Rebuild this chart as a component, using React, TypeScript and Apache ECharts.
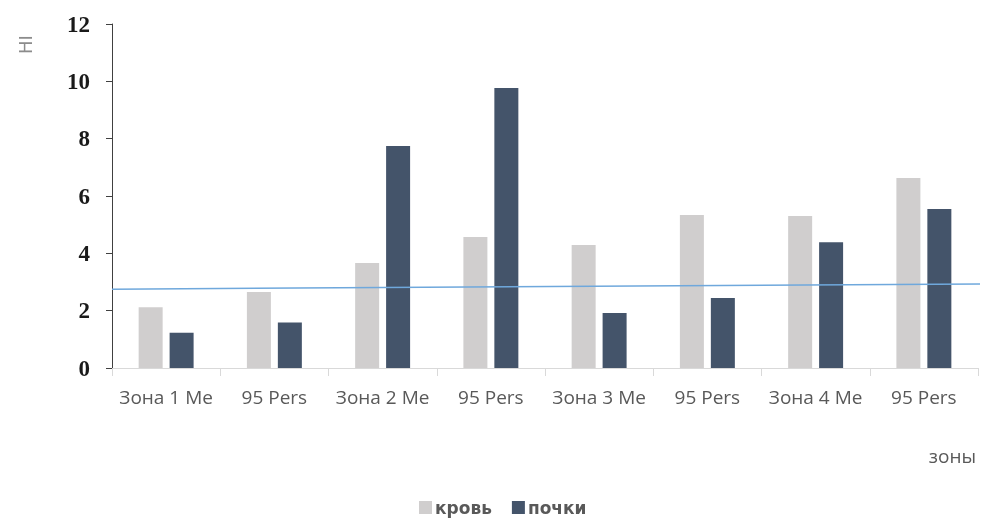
import React, { useEffect, useRef } from "react";
import * as echarts from "echarts";

const categories = ["Зона 1 Me", "95 Pers", "Зона 2 Me", "95 Pers", "Зона 3 Me", "95 Pers", "Зона 4 Me", "95 Pers"];
const krov = [2.12, 2.65, 3.66, 4.57, 4.29, 5.34, 5.3, 6.63];
const pochki = [1.23, 1.59, 7.74, 9.77, 1.92, 2.44, 4.39, 5.55];
const trendX = [0, 8.05];
const trendY = [2.75, 2.93];
const yTicks = [0, 2, 4, 6, 8, 10, 12];

export default function App() {
  const ref = useRef<HTMLDivElement>(null);
  useEffect(() => {
    if (!ref.current) return;
    const chart = echarts.init(ref.current, null, { renderer: "svg" });
    chart.setOption({
      animation: false,
      grid: { left: 112, top: 24, right: 6, bottom: 152, containLabel: false },
      legend: {
        top: 494,
        left: 414,
        itemWidth: 13,
        itemHeight: 13,
        itemGap: 20,
        icon: "rect",
        data: ["кровь", "почки"],
        textStyle: { fontFamily: "DejaVu Sans", fontSize: 17, color: "#595959", fontWeight: "bold", padding: [0, 0, 0, -2] },
      },
      graphic: [
        {
          type: "text",
          x: 16,
          y: 54,
          rotation: Math.PI / 2,
          style: { text: "HI", fontFamily: "DejaVu Sans", fontSize: 18, fill: "#8c8c8c" },
        },
      ],
      xAxis: [
        {
          type: "category",
          data: categories,
          name: "зоны",
          nameLocation: "end",
          nameGap: 0,
          nameTextStyle: { fontFamily: "Open Sans", fontSize: 19, color: "#595959", align: "right", verticalAlign: "top", padding: [78, 2, 0, 0] },
          axisLine: { lineStyle: { color: "#d9d9d9", width: 1 } },
          axisTick: { show: true, length: 8, interval: 0, lineStyle: { color: "#d9d9d9" } },
          axisLabel: { fontFamily: "Open Sans", fontSize: 19, color: "#595959", margin: 19, interval: 0 },
        },
        { type: "value", min: 0, max: 8, show: false },
      ],
      yAxis: {
        type: "value",
        min: 0,
        max: 12,
        interval: 2,
        axisLine: { show: true, lineStyle: { color: "#404040", width: 1 } },
        axisTick: { show: true, length: 6, lineStyle: { color: "#404040" } },
        splitLine: { show: false },
        axisLabel: {
          fontFamily: "Liberation Serif",
          fontSize: 23,
          fontWeight: "bold",
          color: "#1a1a1a",
          margin: 22,
          formatter: (v: number) => (yTicks.includes(v) ? String(v) : ""),
        },
      },
      series: [
        {
          name: "кровь",
          type: "bar",
          data: krov,
          barWidth: 24,
          barGap: "29%",
          itemStyle: { color: "#d0cece" },
        },
        {
          name: "почки",
          type: "bar",
          data: pochki,
          barWidth: 24,
          itemStyle: { color: "#44546a" },
        },
        {
          name: "trend",
          type: "line",
          xAxisIndex: 1,
          clip: false,
          data: trendX.map((x, i) => [x, trendY[i]]),
          symbol: "none",
          lineStyle: { color: "#6fa8dc", width: 1.5 },
          z: 5,
        },
      ],
    });
    return () => chart.dispose();
  }, []);
  return <div ref={ref} style={{ width: 984, height: 520, position: "fixed", left: 0, top: 0 }} />;
}
